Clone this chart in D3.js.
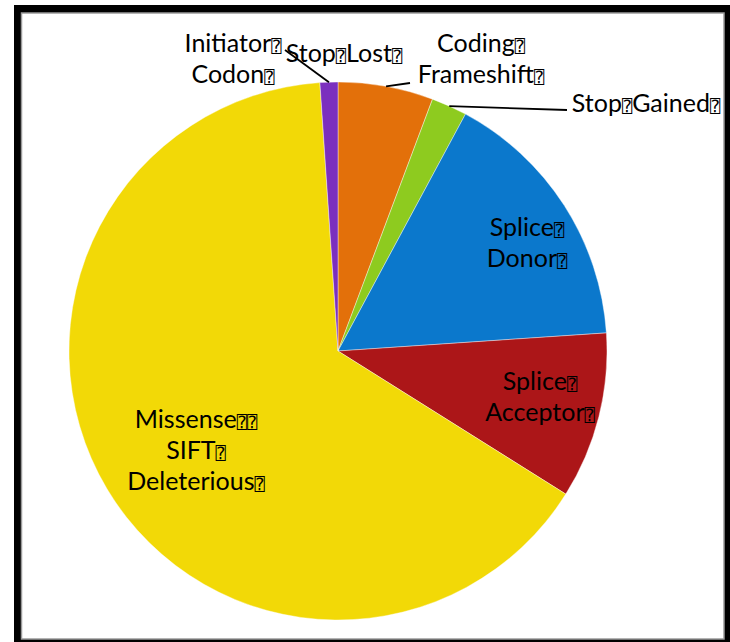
<!DOCTYPE html>
<html>
<head>
<meta charset="utf-8">
<script src="https://cdn.jsdelivr.net/npm/d3@7/dist/d3.min.js"></script>
<style>
  html, body { margin: 0; padding: 0; background: #fff; }
  svg { display: block; }
  text { font-family: Lato, "Open Sans", sans-serif; }
  tspan.q { font-family: "DejaVu Sans Mono", "DejaVu Sans", sans-serif; }
</style>
</head>
<body>
<svg id="chart" width="730" height="642"></svg>
<script>
// Variant classes, in drawing order (clockwise from 12 o'clock)
const categories = ["Stop Lost", "Coding Frameshift", "Stop Gained", "Splice Donor",
                    "Splice Acceptor", "Missense SIFT Deleterious", "Initiator Codon"];
const counts = [0, 16, 6, 45, 28, 182, 3];
// Label lines as printed; "⍰" marks the unprintable separators of the source labels
const Q = "\u2370";
const labelLines = [
  ["Stop" + Q + "Lost" + Q],
  ["Coding" + Q, "Frameshift" + Q],
  ["Stop" + Q + "Gained" + Q],
  ["Splice" + Q, "Donor" + Q],
  ["Splice" + Q, "Acceptor" + Q],
  ["Missense" + Q + Q, "SIFT" + Q, "Deleterious" + Q],
  ["Initiator" + Q, "Codon" + Q]
];
const sliceColors = ["#7b2fbe", "#e3700a", "#8ecb1f", "#0b78cc", "#ac1618", "#f2d907", "#7b2fbe"];

// Label placement (centre x, first baseline y) and leader-line start points
const labelAnchor = [
  {x: 344, y: 62, leader: false},
  {x: 481, y: 52, leader: true, from: [410, 83]},
  {x: 646, y: 112, leader: true, from: [567, 110]},
  {x: 527, y: 236, leader: false},
  {x: 540, y: 390, leader: false},
  {x: 196, y: 428, leader: false},
  {x: 233, y: 52, leader: true, from: [285, 50]}
];

const svg = d3.select("#chart");
const W = 730, H = 642;

// Frame
svg.append("rect").attr("x", 14).attr("y", 5).attr("width", W - 14).attr("height", H - 5).attr("fill", "#000");
svg.append("rect").attr("x", 21.5).attr("y", 13).attr("width", 702.5).attr("height", 626)
  .attr("fill", "#fff").attr("stroke", "#9a9a9a").attr("stroke-width", 1.5);

const cx = 338, cy = 351, R = 269;
const g = svg.append("g").attr("transform", `translate(${cx},${cy})`);

const pie = d3.pie().sort(null).value(d => d)(counts);
const arc = d3.arc().innerRadius(0).outerRadius(R);

g.selectAll("path.slice")
  .data(pie)
  .join("path")
  .attr("class", "slice")
  .attr("d", arc)
  .attr("fill", (d, i) => sliceColors[i])
  .attr("stroke", "#fff")
  .attr("stroke-width", 0.4);

// Leader lines: from the label to the midpoint of the slice's outer edge
pie.forEach((d, i) => {
  const a = labelAnchor[i];
  if (!a.leader) return;
  const mid = (d.startAngle + d.endAngle) / 2;
  const px = cx + Math.sin(mid) * R, py = cy - Math.cos(mid) * R;
  svg.append("line")
    .attr("x1", a.from[0]).attr("y1", a.from[1])
    .attr("x2", px).attr("y2", py)
    .attr("stroke", "#000").attr("stroke-width", 1.8);
});

// Labels; separator glyphs set in a font that carries them
const lineH = 31;
labelLines.forEach((lines, i) => {
  const a = labelAnchor[i];
  const t = svg.append("text")
    .attr("text-anchor", "middle")
    .attr("font-size", 25)
    .attr("fill", "#000");
  lines.forEach((s, k) => {
    const row = t.append("tspan").attr("x", a.x).attr("y", a.y + k * lineH);
    s.split(/(\u2370)/).filter(p => p.length).forEach(p => {
      const sp = row.append("tspan").text(p);
      if (p === Q) sp.attr("class", "q").attr("font-size", 17);
    });
  });
});
</script>
</body>
</html>
